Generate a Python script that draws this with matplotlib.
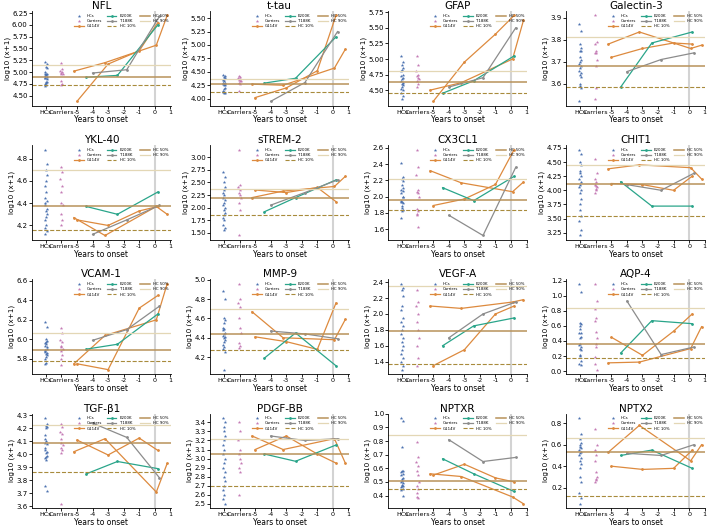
import numpy as np
import matplotlib.pyplot as plt
from matplotlib.ticker import MultipleLocator, FormatStrFormatter

markers = ['NFL', 't-tau', 'GFAP', 'Galectin-3',
           'YKL-40', 'sTREM-2', 'CX3CL1', 'CHIT1',
           'VCAM-1', 'MMP-9', 'VEGF-A', 'AQP-4',
           'TGF-β1', 'PDGF-BB', 'NPTXR', 'NPTX2']
ystep = [0.25, 0.25, 0.25, 0.1,
         0.2, 0.25, 0.2, 0.25,
         0.2, 0.2, 0.2, 0.2,
         0.1, 0.1, 0.1, 0.2]

# time points (years to onset) of the patient samples
t_g114v_a = [-5.2, -3.2, 0.1, 0.8]
t_g114v_b = [-5.0, -3.0, -1.0, 0.2]
t_e200k = [-4.4, -2.4, 0.2]
t_t188k = [-4.0, -1.8, 0.3]

hcs = [
    [5.22, 5.18, 5.1, 5.08, 4.97, 4.95, 4.93, 4.92, 4.9, 4.88, 4.87, 4.85, 4.8, 4.78, 4.76, 4.75, 4.73, 4.71, 4.95, 5.0],
    [4.45, 4.42, 4.4, 4.38, 4.36, 4.34, 4.32, 4.3, 4.29, 4.28, 4.27, 4.26, 4.25, 4.2, 4.18, 4.15, 4.13, 4.12, 4.11, 4.1],
    [5.05, 4.95, 4.9, 4.85, 4.82, 4.8, 4.75, 4.72, 4.7, 4.68, 4.65, 4.62, 4.6, 4.58, 4.55, 4.52, 4.5, 4.45, 4.4, 4.35],
    [3.87, 3.84, 3.78, 3.76, 3.75, 3.72, 3.71, 3.69, 3.68, 3.67, 3.66, 3.65, 3.64, 3.63, 3.6, 3.59, 3.58, 3.52, 3.75, 3.7],
    [4.88, 4.75, 4.7, 4.65, 4.6, 4.55, 4.5, 4.45, 4.42, 4.4, 4.38, 4.35, 4.33, 4.3, 4.28, 4.25, 4.2, 4.18, 4.15, 4.12],
    [2.7, 2.6, 2.5, 2.4, 2.35, 2.3, 2.25, 2.2, 2.15, 2.1, 2.05, 2.0, 1.95, 1.9, 1.85, 1.8, 1.75, 1.65, 1.6, 1.55],
    [2.41, 2.24, 2.22, 2.19, 2.14, 2.08, 2.07, 2.05, 1.99, 1.93, 1.93, 1.92, 1.86, 1.84, 1.82, 1.73, 2.0, 1.95, 2.1, 1.88],
    [4.72, 4.65, 4.5, 4.45, 4.35, 4.3, 4.25, 4.2, 4.15, 4.1, 4.05, 4.0, 3.95, 3.85, 3.75, 3.65, 3.55, 3.45, 3.3, 3.2],
    [6.18, 6.13, 6.0, 5.98, 5.97, 5.96, 5.95, 5.93, 5.9, 5.88, 5.87, 5.86, 5.85, 5.84, 5.82, 5.8, 5.76, 5.75, 5.92, 5.89],
    [4.88, 4.8, 4.6, 4.58, 4.55, 4.5, 4.49, 4.48, 4.45, 4.44, 4.42, 4.41, 4.4, 4.38, 4.36, 4.33, 4.3, 4.28, 4.25, 4.07],
    [2.38, 2.33, 2.3, 2.22, 2.1, 2.05, 1.95, 1.9, 1.85, 1.8, 1.75, 1.7, 1.65, 1.6, 1.55, 1.5, 1.45, 1.4, 1.35, 1.3],
    [1.16, 1.05, 0.64, 0.62, 0.6, 0.56, 0.51, 0.5, 0.45, 0.36, 0.35, 0.32, 0.3, 0.28, 0.22, 0.2, 0.14, 0.1, 0.08, 0.44],
    [4.28, 4.23, 4.22, 4.21, 4.2, 4.15, 4.1, 4.09, 4.08, 4.05, 4.03, 4.02, 4.01, 3.99, 3.98, 3.97, 3.96, 3.76, 3.72, 4.12],
    [3.45, 3.4, 3.3, 3.25, 3.2, 3.15, 3.1, 3.05, 3.0, 2.95, 2.9, 2.85, 2.8, 2.75, 2.7, 2.65, 2.6, 2.55, 2.5, 3.35],
    [0.97, 0.95, 0.76, 0.58, 0.58, 0.57, 0.56, 0.55, 0.53, 0.51, 0.5, 0.49, 0.48, 0.47, 0.47, 0.46, 0.45, 0.44, 0.4, 0.52],
    [0.85, 0.7, 0.65, 0.62, 0.6, 0.58, 0.57, 0.55, 0.53, 0.52, 0.5, 0.48, 0.45, 0.42, 0.38, 0.3, 0.25, 0.15, 0.1, 0.05],
]

carriers = [
    [5.2, 5.06, 5.03, 5.0, 4.98, 4.97, 4.95, 4.82, 4.75, 4.72],
    [4.42, 4.4, 4.38, 4.37, 4.35, 4.33, 4.32, 4.3, 4.28, 4.14],
    [5.05, 4.9, 4.8, 4.75, 4.72, 4.7, 4.68, 4.65, 4.6, 4.55],
    [3.91, 3.79, 3.78, 3.75, 3.74, 3.74, 3.71, 3.68, 3.58, 3.53],
    [4.72, 4.68, 4.62, 4.55, 4.5, 4.4, 4.38, 4.3, 4.25, 4.2],
    [3.15, 2.45, 2.4, 2.35, 2.3, 2.25, 2.2, 2.1, 1.95, 1.45],
    [2.58, 2.36, 2.27, 2.08, 2.06, 2.04, 2.0, 1.85, 1.82, 1.79, 1.77, 1.62],
    [4.55, 4.3, 4.2, 4.15, 4.1, 4.08, 4.05, 4.02, 4.0, 3.95],
    [6.12, 6.07, 5.99, 5.97, 5.93, 5.92, 5.9, 5.88, 5.84, 5.8, 5.74],
    [4.96, 4.8, 4.76, 4.72, 4.6, 4.5, 4.45, 4.35, 4.31, 4.29],
    [2.3, 2.15, 2.1, 2.0, 1.9, 1.8, 1.7, 1.6, 1.45, 1.35],
    [1.16, 0.93, 0.83, 0.7, 0.66, 0.52, 0.44, 0.36, 0.32, 0.19, 0.1, 0.02],
    [4.23, 4.21, 4.17, 4.16, 4.12, 4.09, 4.07, 4.05, 4.03, 4.01, 3.62],
    [3.4, 3.3, 3.2, 3.1, 3.05, 3.0, 2.95, 2.9, 2.85, 2.6],
    [0.79, 0.68, 0.65, 0.62, 0.58, 0.55, 0.5, 0.47, 0.45, 0.42, 0.39, 0.38],
    [0.75, 0.6, 0.55, 0.5, 0.45, 0.35, 0.3, 0.28, 0.27, 0.25],
]

g114v_a = [
    [5.02, 5.2, 5.57, 6.2], [4.27, 4.25, 4.57, 4.92], [4.5, 4.62, 5.0, 5.62], [3.78, 3.835, 3.76, 3.775],
    [4.27, 4.11, 4.37, 4.3], [2.2, 2.33, 2.42, 2.62], [2.32, 2.17, 2.06, 2.18], [4.38, 4.45, 4.4, 4.2],
    [5.75, 6.04, 6.2, 6.57], [4.67, 4.4, 4.38, 4.59], [2.1, 2.07, 2.15, 2.18], [0.11, 0.12, 0.3, 0.59],
    [4.02, 4.12, 3.71, 3.93], [3.25, 3.1, 3.22, 2.95], [0.56, 0.54, 0.39, 0.34], [0.53, 0.78, 0.45, 0.6],
]
g114v_b = [
    [4.38, 5.17, 5.45, 6.05], [4.02, 4.2, 4.52, 5.55], [4.32, 4.95, 5.4, 5.7], [3.72, 3.76, 3.785, 3.78],
    [4.25, 4.2, 4.33, 4.37], [2.35, 2.3, 2.4, 2.12], [1.89, 1.97, 2.15, 2.58], [4.12, 4.1, 4.0, 4.25],
    [5.75, 5.69, 6.32, 6.45], [4.41, 4.36, 4.28, 4.76], [1.35, 1.55, 2.0, 2.1], [0.45, 0.21, 0.53, 0.76],
    [4.11, 3.995, 4.125, 4.03], [3.1, 3.25, 3.05, 2.95], [0.55, 0.63, 0.53, 0.5], [0.4, 0.37, 0.38, 0.55],
]
e200k = [
    [4.89, 4.93, 6.0], [4.29, 4.38, 5.15], [4.45, 4.65, 5.05], [3.585, 3.785, 3.835],
    [4.37, 4.3, 4.5], [1.92, 2.2, 2.55], [2.11, 1.95, 2.25], [4.15, 3.72, 3.72],
    [5.9, 5.95, 6.26], [4.19, 4.45, 4.11], [1.6, 1.85, 1.95], [0.24, 0.67, 0.63],
    [3.85, 3.945, 3.89], [3.05, 2.97, 3.15], [0.67, 0.56, 0.43], [0.5, 0.55, 0.38],
]
t188k = [
    [4.98, 5.05, 6.18], [3.95, 4.3, 5.25], [4.55, 4.7, 5.5], [3.655, 3.71, 3.74],
    [4.12, 4.25, 4.38], [2.05, 2.3, 2.55], [1.77, 1.52, 2.36], [4.1, 4.0, 4.3],
    [5.99, 6.1, 6.34], [4.47, 4.44, 4.39], [1.7, 2.0, 2.15], [0.93, 0.22, 0.32],
    [4.24, 4.13, 3.82], [3.25, 3.2, 3.22], [0.81, 0.65, 0.68], [0.52, 0.5, 0.6],
]

hc10 = [4.73, 4.12, 4.46, 3.585, 4.16, 1.86, 1.83, 3.55, 5.78, 4.27, 1.37, 0.17, 3.865, 2.7, 0.445, 0.12]
hc50 = [4.89, 4.28, 4.63, 3.68, 4.37, 2.2, 1.96, 4.12, 5.89, 4.44, 1.78, 0.36, 4.085, 3.05, 0.51, 0.53]
hc90 = [5.15, 4.37, 4.80, 3.81, 4.70, 2.37, 2.22, 4.45, 6.07, 4.70, 2.35, 0.84, 4.225, 3.22, 0.845, 0.66]

xtick_pos = [-7, -6, -5, -4, -3, -2, -1, 0, 1]
xtick_lab = ['HCs', 'Carriers', '-5', '-4', '-3', '-2', '-1', '0', '1']

c_hc = '#4c72b0'
c_car = '#c47bb5'
c_g = '#dd8a3e'
c_e = '#2aa58a'
c_t = '#8c8c8c'

jit = np.array([-0.06, 0.04, -0.02, 0.07, 0.0, -0.05, 0.03, -0.08, 0.05, -0.03])

fig, axes = plt.subplots(4, 4, figsize=(7.09, 5.32), dpi=100)
plt.subplots_adjust(left=0.045, right=0.995, bottom=0.045, top=0.979, wspace=0.28, hspace=0.42)

for i, ax in enumerate(axes.flat):
    h = np.array(hcs[i])
    c = np.array(carriers[i])
    ax.axvline(0, color='#d3d3d3', lw=1.5, zorder=0)
    ax.scatter(-7 + np.resize(jit, len(h)), h, s=7, marker='*', color=c_hc, lw=0, label='HCs')
    ax.scatter(-6 + np.resize(jit[::-1], len(c)), c, s=7, marker='*', color=c_car, lw=0, label='Carriers')
    ax.plot(t_g114v_a, g114v_a[i], color=c_g, lw=0.9, marker='.', ms=2, label='G114V')
    ax.plot(t_g114v_b, g114v_b[i], color=c_g, lw=0.9, marker='.', ms=2)
    ax.plot(t_e200k, e200k[i], color=c_e, lw=0.9, marker='.', ms=2, label='E200K')
    ax.plot(t_t188k, t188k[i], color=c_t, lw=0.9, marker='.', ms=2, label='T188K')
    ax.axhline(hc10[i], color='#a88b3c', lw=0.8, ls='--', label='HC 10%')
    ax.axhline(hc50[i], color='#b8925a', lw=1.1, label='HC 50%')
    ax.axhline(hc90[i], color='#e3d7b5', lw=0.9, label='HC 90%')

    ax.set_title(markers[i], fontsize=7.5, pad=1.5)
    ax.set_xlim(-7.9, 1.05)
    ax.set_xticks(xtick_pos)
    ax.set_xticklabels(xtick_lab)
    ax.yaxis.set_major_locator(MultipleLocator(ystep[i]))
    ax.yaxis.set_major_formatter(FormatStrFormatter('%.2f' if ystep[i] == 0.25 else '%.1f'))
    ax.set_xlabel('Years to onset', fontsize=5.5, labelpad=0.5)
    ax.set_ylabel('log10 (x+1)', fontsize=5.2, labelpad=1)
    ax.tick_params(axis='y', labelsize=5, length=2, width=0.6, pad=1)
    ax.tick_params(axis='x', labelsize=4.6, length=2, width=0.6, pad=1)
    for s in ['top', 'right']:
        ax.spines[s].set_visible(False)
    for s in ['left', 'bottom']:
        ax.spines[s].set_linewidth(0.6)
    ax.legend(loc='upper right', ncol=3, fontsize=2.8, frameon=False,
              handlelength=2.5, columnspacing=1.2, labelspacing=0.3, borderaxespad=0.3)

plt.savefig('out.png', dpi=100)
